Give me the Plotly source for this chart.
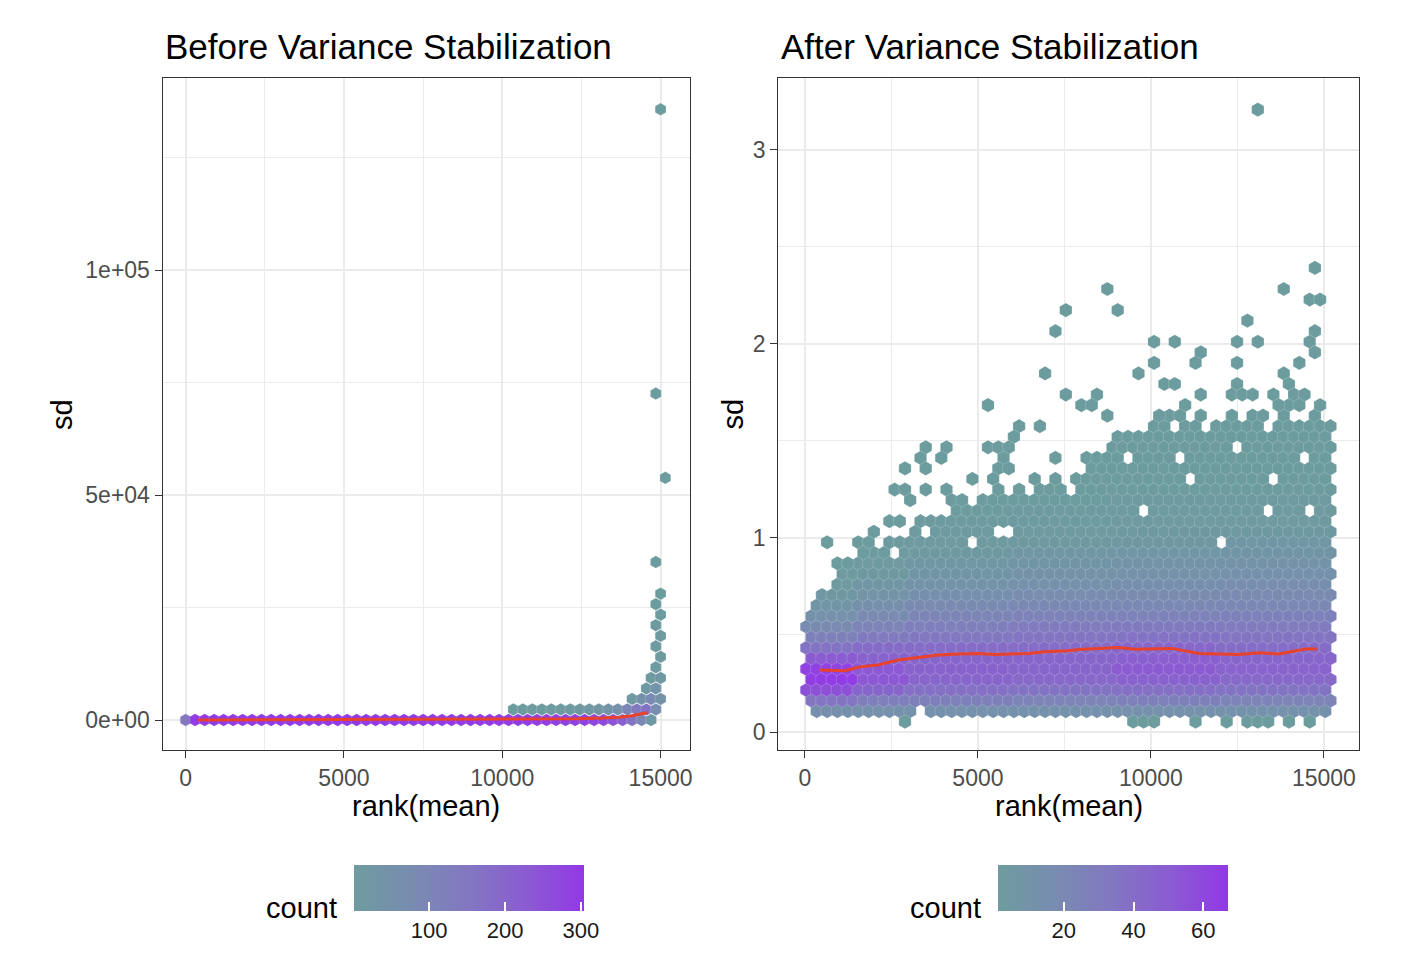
import plotly.graph_objects as go

# ---------------- Left panel (before stabilisation), hex cells ----------------
# bottom hex row (sd = 0), one cell every 300 ranks
left_row0_x = [0, 300, 600, 900, 1200, 1500, 1800, 2100, 2400, 2700,
               3000, 3300, 3600, 3900, 4200, 4500, 4800, 5100, 5400, 5700,
               6000, 6300, 6600, 6900, 7200, 7500, 7800, 8100, 8400, 8700,
               9000, 9300, 9600, 9900, 10200, 10500, 10800, 11100, 11400, 11700,
               12000, 12300, 12600, 12900, 13200, 13500, 13800, 14100, 14400, 14700]
left_row0_count = [150, 300, 300, 300, 300, 300, 300, 300, 300, 300,
                   300, 300, 300, 300, 300, 300, 300, 300, 300, 300,
                   300, 300, 300, 300, 300, 300, 300, 300, 300, 300,
                   300, 300, 300, 300, 297, 296, 295, 294, 292, 291,
                   289, 286, 282, 275, 262, 245, 215, 160, 90, 20]
# second hex row (sd ~ 2340)
left_row1_x = [10350, 10650, 10950, 11250, 11550, 11850, 12150, 12450,
               12750, 13050, 13350, 13650, 13950, 14250, 14550, 14850]
left_row1_count = [3, 4, 5, 6, 8, 9, 11, 14, 18, 25, 40, 60, 95, 140, 165, 70]
# the column of high-sd cells at the right end
left_col_x = [14100, 14400, 14700, 15000, 14550, 14850, 14700, 15000, 14850, 15000,
              14850, 15000, 14850, 15000, 14850, 15000, 14850, 15150, 14850, 15000]
left_col_sd = [4680, 4680, 4680, 4680, 7020, 7020, 9360, 9360, 11700, 14040,
               16380, 18720, 21060, 23400, 25740, 28080, 35100, 53820, 72540, 135720]
left_col_count = [12, 50, 80, 45, 15, 40, 10, 20, 12, 10, 8, 6, 5, 4, 3, 2, 1, 1, 1, 1]

left_line_x = [390, 3000, 6000, 9000, 11000, 12400, 13200, 13700, 14100, 14400, 14600]
left_line_sd = [0, 30, 60, 100, 180, 250, 420, 620, 950, 1300, 1650]

# ---------------- Right panel (after stabilisation) ----------------
# upper / lower edge of the filled hex block, one value per 300 ranks
right_top_sd = [0.60, 0.70, 0.72, 0.80, 0.82, 0.87, 0.90, 0.93, 0.98, 1.00,
                1.04, 1.09, 1.09, 1.09, 1.14, 1.14, 1.14, 1.20, 1.20, 1.17,
                1.25, 1.20, 1.25, 1.25, 1.25, 1.20, 1.30, 1.42, 1.47, 1.47,
                1.52, 1.52, 1.50, 1.58, 1.58, 1.63, 1.58, 1.58, 1.52, 1.58,
                1.55, 1.58, 1.58, 1.63, 1.58, 1.58, 1.69, 1.58, 1.58, 1.63,
                1.58, 0.00]
right_bot_sd = [0.16, 0.107, 0.107, 0.107, 0.107, 0.107, 0.107, 0.107, 0.107, 0.107,
                0.107, 0.107, 0.107, 0.107, 0.107, 0.107, 0.107, 0.107, 0.107, 0.107,
                0.107, 0.107, 0.107, 0.107, 0.107, 0.107, 0.107, 0.107, 0.107, 0.107,
                0.107, 0.107, 0.107, 0.107, 0.107, 0.107, 0.107, 0.107, 0.107, 0.107,
                0.107, 0.107, 0.107, 0.107, 0.107, 0.107, 0.107, 0.107, 0.107, 0.107,
                0.107, 9.0]

# typical count per hex row (row 0 = lowest) for six rank groups
right_group_edges = [1500, 3000, 6000, 9000, 12000]
counts_g0 = [2, 14, 35, 55, 65, 62, 50, 36, 26, 18, 12, 8, 5, 3, 2, 2, 1, 1, 1, 1, 1, 1, 1]
counts_g1 = [3, 12, 28, 44, 52, 52, 46, 40, 31, 24, 18, 13, 9, 6, 4, 3, 2, 2, 1, 1, 1, 1, 1]
counts_g2 = [4, 12, 26, 38, 44, 46, 44, 40, 34, 28, 23, 18, 14, 10, 8, 6, 4, 3, 2, 2, 1, 1, 1]
counts_g3 = [4, 12, 24, 36, 42, 44, 44, 40, 35, 30, 25, 20, 16, 12, 10, 8, 6, 4, 3, 2, 2, 1, 1]
counts_g4 = [4, 12, 26, 38, 46, 50, 48, 43, 37, 31, 25, 20, 17, 14, 11, 9, 7, 5, 4, 3, 2, 2, 1]
counts_g5 = [4, 12, 24, 36, 42, 45, 44, 40, 35, 30, 26, 21, 18, 15, 12, 10, 8, 6, 4, 3, 2, 2, 1]

# isolated single genes (count 1)
right_extra_x = [13180, 14858, 8791, 13943, 14706, 15010, 12897, 7571, 9096, 7266,
                 14858, 14706, 14858, 10163, 10773, 12592, 13202, 11525, 10163, 11372,
                 12592, 14411, 6972, 9695, 13943, 10468, 10773, 12592, 14106, 7571,
                 8486, 11525, 12440, 12745, 13050, 13660, 14259, 14564, 5316, 8039,
                 8344, 11067, 13812, 14411, 15010, 8791, 10316, 10621, 10926, 11525,
                 12440, 13050, 13355, 14858, 6231, 6827, 6058, 3462, 4087, 5288,
                 5625, 5913, 3365, 3942, 5769, 7288, 3462, 2885, 5625, 5913,
                 4856, 5385, 6683, 7260, 2596, 2885, 3462, 4087, 5625, 6250,
                 6827, 7115, 7452, 3029, 4231, 4519, 625, 1538, 1827, 913,
                 1250, 1683, 1971, 2452, 2740, 15300,
                 2880, 9519, 9856, 10144, 11346, 12260, 12885, 13173, 13462, 14038, 14663]
right_extra_sd = [3.204, 2.389, 2.280, 2.280, 2.226, 2.226, 2.120, 2.172, 2.172, 2.065,
                  2.065, 2.009, 1.957, 2.009, 2.009, 2.009, 2.009, 1.957, 1.900, 1.900,
                  1.900, 1.900, 1.846, 1.846, 1.846, 1.794, 1.794, 1.794, 1.794, 1.739,
                  1.739, 1.739, 1.739, 1.739, 1.739, 1.739, 1.739, 1.739, 1.683, 1.683,
                  1.683, 1.683, 1.683, 1.683, 1.683, 1.631, 1.631, 1.631, 1.631, 1.631,
                  1.631, 1.631, 1.631, 1.631, 1.577, 1.577, 1.522, 1.471, 1.471, 1.471,
                  1.471, 1.471, 1.419, 1.419, 1.419, 1.419, 1.368, 1.359, 1.359, 1.359,
                  1.308, 1.308, 1.308, 1.308, 1.256, 1.256, 1.256, 1.256, 1.256, 1.256,
                  1.256, 1.256, 1.256, 1.204, 1.204, 1.204, 0.981, 0.981, 0.981, 0.869,
                  0.869, 0.930, 1.041, 1.093, 1.093, 0.490,
                  0.053, 0.053, 0.053, 0.053, 0.053, 0.053, 0.053, 0.053, 0.053, 0.053, 0.053]

# empty cells inside the block
right_hole_x = [9856, 13462, 14663, 12115, 9375, 10913, 11154, 4837, 3462, 5577, 5865, 2596, 3365,
                8600, 9700, 10600, 12400, 13300, 13650, 14300]
right_hole_sd = [1.144, 1.153, 1.144, 0.981, 1.419, 1.419, 1.300, 0.972, 1.040, 1.030, 1.030, 0.930, 0.107,
                 1.470, 1.580, 1.580, 1.470, 1.580, 1.300, 1.420]

right_line_x = [425, 1149, 1631, 2114, 2693, 3272, 3851, 4431, 5010, 5493, 5975, 6458,
                6941, 7616, 7905, 9064, 9547, 10607, 11380, 12539, 13118, 13697, 14470, 14806]
right_line_sd = [0.320, 0.316, 0.337, 0.345, 0.371, 0.383, 0.397, 0.402, 0.405, 0.400, 0.402, 0.405,
                 0.414, 0.419, 0.425, 0.436, 0.426, 0.431, 0.405, 0.400, 0.409, 0.402, 0.428, 0.428]

# hex lattice of the right panel
X0, DX = 40, 150      # half column step (ranks)
Y0, DY = 0.053, 0.0544  # row step (sd)


def snap(x, sd):
    r = int(round((sd - Y0) / DY))
    pos = (x - X0) / DX
    m = int(round(pos))
    if (r + m) % 2 == 0:
        m = m + 1 if pos > m else m - 1
    return m, r


def typical_count(x, r):
    g = sum(1 for e in right_group_edges if x >= e)
    prof = [counts_g0, counts_g1, counts_g2, counts_g3, counts_g4, counts_g5][g]
    return prof[r] if r < len(prof) else 1


cells = {}
for m in range(103):
    x = X0 + DX * m
    k = min(int(x // 300), len(right_top_sd) - 1)
    for r in range(60):
        if (r + m) % 2 == 0:
            continue
        sd = Y0 + DY * r
        if right_bot_sd[k] - 0.03 <= sd <= right_top_sd[k] + 0.03:
            cells[(m, r)] = typical_count(x, r)
for hx, hs in zip(right_hole_x, right_hole_sd):
    cells.pop(snap(hx, hs), None)
for ex, es in zip(right_extra_x, right_extra_sd):
    key = snap(ex, es)
    if key not in cells:
        cells[key] = 1

right_hex_x = [X0 + DX * m for (m, r) in cells]
right_hex_sd = [Y0 + DY * r for (m, r) in cells]
right_hex_count = list(cells.values())

left_hex_x = left_row0_x + left_row1_x + left_col_x
left_hex_sd = [0] * len(left_row0_x) + [2340] * len(left_row1_x) + left_col_sd
left_hex_count = left_row0_count + left_row1_count + left_col_count

scale = [[0, "#6D9C9E"], [0.25, "#798CB1"], [0.5, "#8277C1"], [0.75, "#8B5BD2"], [1, "#9238E6"]]
LINE_RED = "#E8412C"
SEAM = "rgba(255,255,255,0.35)"

# the page body has an 8px margin, so the figure is 8px smaller and shifted
OFF = 8
W, H = 1418 - OFF, 974 - OFF


def fx(px):
    return (px - OFF) / W


def fy(py):
    return 1 - (py - OFF) / H


fig = go.Figure()
fig.add_trace(go.Scatter(
    x=left_hex_x, y=left_hex_sd, mode="markers", xaxis="x", yaxis="y",
    marker=dict(symbol="hexagon", size=12.5, color=left_hex_count, coloraxis="coloraxis",
                line=dict(width=0.5, color=SEAM)),
    hoverinfo="skip"))
fig.add_trace(go.Scatter(
    x=left_line_x, y=left_line_sd, mode="lines", xaxis="x", yaxis="y",
    line=dict(color=LINE_RED, width=3)))
fig.add_trace(go.Scatter(
    x=right_hex_x, y=right_hex_sd, mode="markers", xaxis="x2", yaxis="y2",
    marker=dict(symbol="hexagon", size=14.2, color=right_hex_count, coloraxis="coloraxis2",
                line=dict(width=0.5, color=SEAM)),
    hoverinfo="skip"))
fig.add_trace(go.Scatter(
    x=right_line_x, y=right_line_sd, mode="lines", xaxis="x2", yaxis="y2",
    line=dict(color=LINE_RED, width=3)))

axis_style = dict(showline=True, mirror=True, linecolor="#333333", linewidth=1.3,
                  showgrid=True, gridcolor="#EBEBEB", gridwidth=2.2, zeroline=False,
                  ticks="outside", ticklen=7, tickwidth=1.4, tickcolor="#333333",
                  tickfont=dict(size=23, color="#4D4D4D"))


def minor(vals):
    return dict(tickvals=vals, showgrid=True, gridcolor="#EBEBEB", gridwidth=1.1)


def cbar(cx, vals):
    return dict(orientation="h", x=fx(cx), xanchor="center",
                y=fy(865), yanchor="top", len=230, lenmode="pixels",
                thickness=46, thicknessmode="pixels", xpad=0, ypad=0,
                outlinewidth=0, tickvals=vals, ticks="inside",
                ticklen=9, tickcolor="white", tickwidth=1.5,
                tickfont=dict(size=22, color="#1A1A1A"))


y_dom = [fy(750), fy(78)]
fig.update_layout(
    width=W, height=H, margin=dict(l=0, r=0, t=0, b=0),
    paper_bgcolor="white", plot_bgcolor="white", showlegend=False,
    font=dict(family="Liberation Sans, Arial, sans-serif", color="#000000"),
    xaxis=dict(axis_style, domain=[fx(163), fx(691)], range=[-725, 15915], anchor="y",
               tickvals=[0, 5000, 10000, 15000], ticktext=["0", "5000", "10000", "15000"],
               minor=minor([2500, 7500, 12500])),
    yaxis=dict(axis_style, domain=y_dom, range=[-6667, 142667], anchor="x",
               tickvals=[0, 50000, 100000], ticktext=["0e+00", "5e+04", "1e+05"],
               minor=minor([25000, 75000, 125000])),
    xaxis2=dict(axis_style, domain=[fx(780), fx(1362)], range=[-770, 16019], anchor="y2",
                tickvals=[0, 5000, 10000, 15000], ticktext=["0", "5000", "10000", "15000"],
                minor=minor([2500, 7500, 12500])),
    yaxis2=dict(axis_style, domain=y_dom, range=[-0.0928, 3.371], anchor="x2",
                tickvals=[0, 1, 2, 3], ticktext=["0", "1", "2", "3"],
                minor=minor([0.5, 1.5, 2.5])),
    coloraxis=dict(colorscale=scale, cmin=1, cmax=304, colorbar=cbar(470, [100, 200, 300])),
    coloraxis2=dict(colorscale=scale, cmin=1, cmax=67, colorbar=cbar(1115, [20, 40, 60])),
)

texts = [
    ("Before Variance Stabilization", 163, 46, "left", 35, 0),
    ("After Variance Stabilization", 781, 46, "left", 35, 0),
    ("rank(mean)", 427, 806, "center", 29, 0),
    ("rank(mean)", 1071, 806, "center", 29, 0),
    ("sd", 62, 414, "center", 29, -90),
    ("sd", 735, 414, "center", 29, -90),
    ("count", 340, 908, "right", 29, 0),
    ("count", 985, 908, "right", 29, 0),
]
for txt, px, py, anchor, size, angle in texts:
    fig.add_annotation(text=txt, x=fx(px), y=fy(py), xref="paper", yref="paper",
                       xanchor=anchor, yanchor="middle", showarrow=False,
                       textangle=angle, font=dict(size=size, color="#000000"))

fig.write_html("out.html")
